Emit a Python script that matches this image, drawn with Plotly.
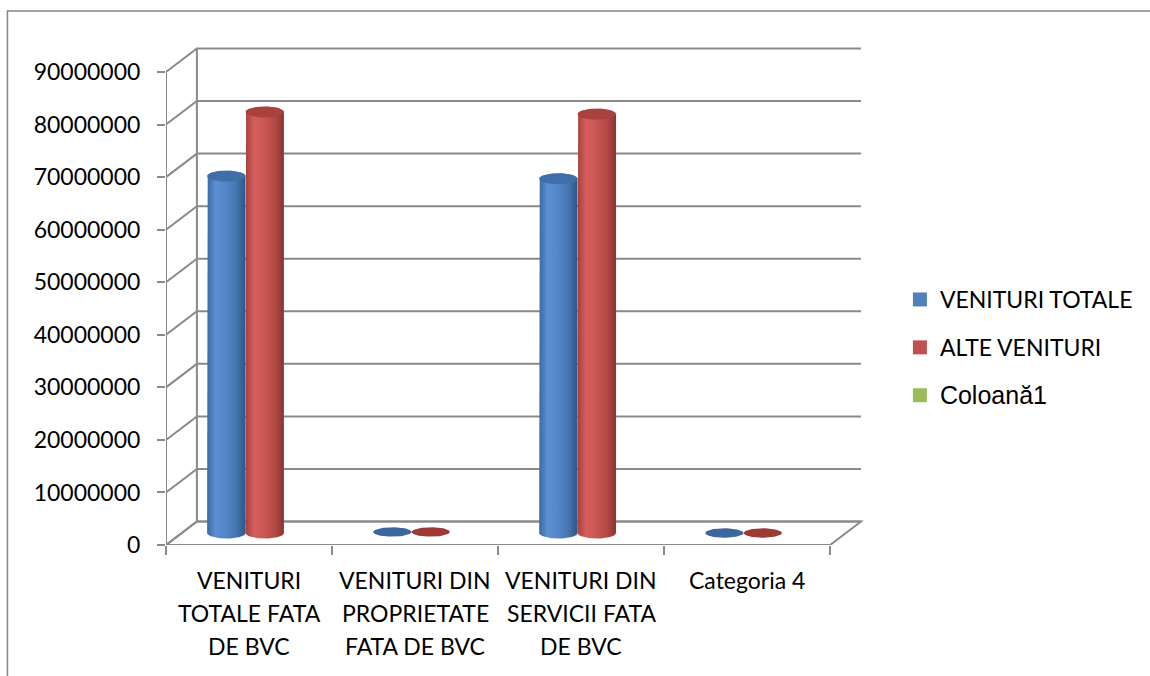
import numpy as np
import plotly.graph_objects as go

# ---------------- data ----------------
categories = ["VENITURI TOTALE FATA DE BVC", "VENITURI DIN PROPRIETATE FATA DE BVC",
              "VENITURI DIN SERVICII FATA DE BVC", "Categoria 4"]
category_lines = [["VENITURI", "TOTALE FATA", "DE BVC"],
                  ["VENITURI DIN", "PROPRIETATE", "FATA DE BVC"],
                  ["VENITURI DIN", "SERVICII FATA", "DE BVC"],
                  ["Categoria 4"]]
series_names = ["VENITURI TOTALE", "ALTE VENITURI", "Coloană1"]
venituri_totale = [67900000, 200000, 67400000, 0]
alte_venituri = [80100000, 200000, 79700000, 0]
coloana1 = [None, None, None, None]
y_ticks = [0, 10000000, 20000000, 30000000, 40000000, 50000000,
           60000000, 70000000, 80000000, 90000000]

# ---------------- geometry (pixel scales -> data units) ----------------
W, H = 1150, 676
L_PX, R_PX, T_PX, B_PX = 166, 870, 40, 545
PX_PER_X = 166.5
PX_PER_Y = (B_PX - 72) / 90000000.0
X_MAX = (R_PX - L_PX) / PX_PER_X
Y_MAX = (B_PX - T_PX) / PX_PER_Y
DX = 31 / PX_PER_X           # back wall depth offset (x)
DY = 23.5 / PX_PER_Y         # back wall depth offset (y)
BDX = -3.5 / PX_PER_X        # bar plane offset
BDY = 12 / PX_PER_Y
BAR_W = 38.5 / PX_PER_X
RY = 5.5 / PX_PER_Y
N = len(categories)

GRID = "#8a8a8a"
fig = go.Figure()

styles = {
    "VENITURI TOTALE": dict(
        body=[[0, "#3a68a2"], [0.22, "#5b90d4"], [0.45, "#5587c9"], [0.75, "#4676b3"], [1, "#2d5685"]],
        top="#3f6ea8", flat="#3c669d", legend="#4f81bd"),
    "ALTE VENITURI": dict(
        body=[[0, "#a5403d"], [0.22, "#d45e5b"], [0.45, "#cc5854"], [0.75, "#b54a47"], [1, "#8a3431"]],
        top="#a8423f", flat="#9c3a37", legend="#c0504d"),
    "Coloană1": dict(body=None, top=None, flat=None, legend="#9bbb59"),
}

t = np.linspace(0, np.pi, 40)


def cylinder(xc, v, st):
    base = BDY
    top = BDY + v
    hw = BAR_W / 2
    tall = v > 1500000
    if tall:
        xs = [xc - hw]
        ys = [base]
        xs += list(xc - hw * np.cos(t))
        ys += list(top + RY * np.sin(t))
        xs += list(xc + hw * np.cos(t))
        ys += list(base - RY * np.sin(t))
        fig.add_trace(go.Scatter(x=xs, y=ys, mode="lines", line=dict(width=0),
                                 fill="toself",
                                 fillgradient=dict(type="horizontal", colorscale=st["body"]),
                                 showlegend=False, hoverinfo="skip"))
    tt = np.linspace(0, 2 * np.pi, 80)
    col = st["top"] if tall else st["flat"]
    ry = RY if tall else RY * 0.85
    fig.add_trace(go.Scatter(x=list(xc + hw * np.cos(tt)), y=list(top + ry * np.sin(tt)),
                             mode="lines", line=dict(width=0), fill="toself",
                             fillcolor=col, showlegend=False, hoverinfo="skip"))


series_values = [venituri_totale, alte_venituri, coloana1]
for si, (name, vals) in enumerate(zip(series_names, series_values)):
    st = styles[name]
    for ci, v in enumerate(vals):
        if v is None:
            continue
        xc = ci + 0.5 + BDX + (si - 0.5) * BAR_W
        cylinder(xc, v, st)

# legend entries
for name in series_names:
    label = name
    if name == "Coloană1":
        label = "<span style='font-family:\"Liberation Sans\", Arial; font-size:25px'>Coloană1</span>"
    fig.add_trace(go.Scatter(x=[None], y=[None], mode="markers", name=label,
                             legendgroup=name,
                             marker=dict(symbol="square", size=14, color=styles[name]["legend"]),
                             hoverinfo="skip"))

# ---------------- walls / gridlines ----------------
shapes = []
for v in y_ticks:
    shapes.append(dict(type="path", xref="x", yref="y",
                       path=f"M 0,{v} L {DX},{v + DY} L {N + DX},{v + DY}",
                       line=dict(color=GRID, width=2), layer="below"))
shapes.append(dict(type="path", xref="x", yref="y",
                   path=f"M 0,0 L {N},0 L {N + DX},{DY} L {DX},{DY} Z",
                   line=dict(color=GRID, width=2), layer="below"))
shapes.append(dict(type="line", xref="x", yref="y", x0=DX, x1=DX, y0=DY, y1=y_ticks[-1] + DY,
                   line=dict(color=GRID, width=2), layer="below"))
shapes.append(dict(type="line", xref="x", yref="y", x0=0, x1=0, y0=0, y1=y_ticks[-1],
                   line=dict(color=GRID, width=2), layer="below"))
# chart border
shapes.append(dict(type="rect", xref="paper", yref="paper",
                   x0=(7 - L_PX) / (R_PX - L_PX), x1=(1200 - L_PX) / (R_PX - L_PX),
                   y0=(B_PX - 720) / (B_PX - T_PX), y1=(B_PX - 11) / (B_PX - T_PX),
                   line=dict(color="#868686", width=1.5), fillcolor="rgba(0,0,0,0)"))

# category labels
annotations = []
for ci, lines in enumerate(category_lines):
    for li, txt in enumerate(lines):
        ypx = 580 + 33 * li
        annotations.append(dict(x=ci + 0.5, xref="x", y=(B_PX - ypx) / (B_PX - T_PX), yref="paper",
                                text=txt, showarrow=False, xanchor="center", yanchor="middle",
                                font=dict(family="Lato", size=23, color="#000000")))

fig.update_layout(
    width=W, height=H,
    margin=dict(l=L_PX, r=W - R_PX, t=T_PX, b=H - B_PX, pad=0),
    paper_bgcolor="white", plot_bgcolor="white",
    font=dict(family="Lato", color="#000000"),
    shapes=shapes, annotations=annotations,
    xaxis=dict(range=[0, X_MAX], showgrid=False, zeroline=False, showline=False,
               tickmode="array", tickvals=list(range(N + 1)), ticktext=[""] * (N + 1),
               ticks="outside", ticklen=9, tickwidth=2, tickcolor=GRID, fixedrange=True),
    yaxis=dict(range=[0, Y_MAX], showgrid=False, zeroline=False, showline=False,
               tickmode="array", tickvals=y_ticks, ticktext=[str(v) for v in y_ticks],
               ticks="outside", ticklen=8, tickwidth=2, tickcolor=GRID,
               ticklabelstandoff=12,
               tickfont=dict(family="Lato", size=23, color="#000000"), fixedrange=True),
    legend=dict(x=(902 - L_PX) / (R_PX - L_PX), xanchor="left",
                y=(B_PX - 278) / (B_PX - T_PX), yanchor="top",
                font=dict(family="Lato", size=23, color="#000000"),
                tracegroupgap=15, bgcolor="rgba(0,0,0,0)", itemsizing="trace"),
    showlegend=True,
)

fig.write_html("out.html")
